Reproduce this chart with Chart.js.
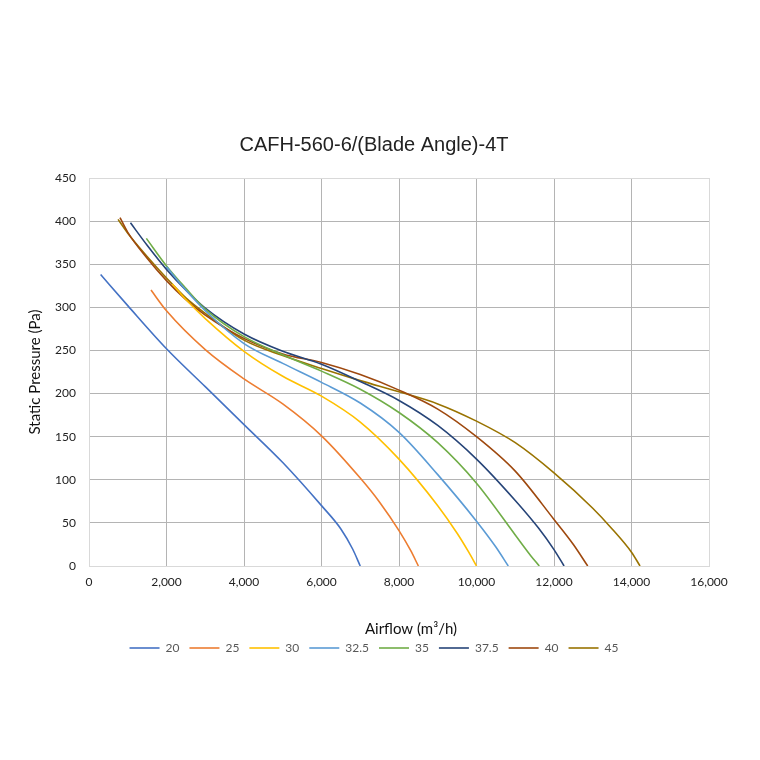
<!DOCTYPE html>
<html>
<head>
<meta charset="utf-8">
<script src="https://cdn.jsdelivr.net/npm/chart.js@4.4.1/dist/chart.umd.min.js"></script>
<style>
  html, body { margin: 0; padding: 0; background: #fff; }
  #wrap { width: 760px; height: 760px; }
</style>
</head>
<body>
<div id="wrap"><canvas id="curvas"></canvas></div>
<script>
// blade angles (legend labels)
const angulos = ['20', '25', '30', '32.5', '35', '37.5', '40', '45'];

// airflow (m3/h) and static pressure (Pa)
const flow20 = [300, 1000, 2000, 3000, 4000, 5000, 6000, 6500, 6800, 7000];
const pres20 = [338, 302, 252, 208, 164, 120, 70, 43, 20, 0];

const flow25 = [1600, 2000, 3000, 4000, 5000, 6000, 7000, 7500, 8000, 8300, 8500];
const pres25 = [320, 296, 251, 217, 188, 151, 102, 74, 41, 18, 0];

const flow30 = [2150, 2500, 3000, 4000, 5000, 6000, 7000, 8000, 9000, 9500, 9800, 10000];
const pres30 = [327, 309, 287, 249, 220, 197, 167, 124, 70, 38, 16, 0];

const flow325 = [2000, 2500, 3000, 4000, 5000, 6000, 7000, 8000, 9000, 10000, 10500, 10820];
const pres325 = [347, 320, 296, 258, 235, 213, 189, 155, 106, 52, 22, 0];

const flow35 = [1480, 2000, 2500, 3000, 4000, 5000, 6000, 7000, 8000, 9000, 10000, 11000, 11400, 11620];
const pres35 = [380, 348, 322, 298, 266, 245, 226, 205, 178, 143, 96, 36, 12, 0];

const flow375 = [1070, 1500, 2000, 2500, 3000, 4000, 5000, 6000, 7000, 8000, 9000, 10000, 11000, 11600, 12000, 12260];
const pres375 = [398, 372, 344, 320, 299, 269, 249, 234, 214, 192, 163, 124, 76, 44, 19, 0];

const flow40 = [800, 1000, 1500, 2000, 2500, 3000, 4000, 5000, 6000, 7000, 8000, 9000, 10000, 11000, 12000, 12500, 12870];
const pres40 = [404, 387, 357, 331, 309, 291, 264, 246, 236, 222, 204, 182, 150, 110, 54, 25, 0];

const flow45 = [750, 1000, 1500, 2000, 2500, 3000, 4000, 5000, 6000, 7000, 8000, 9000, 10000, 11000, 12000, 13000, 13500, 14000, 14220];
const pres45 = [402, 386, 359, 334, 311, 293, 262, 244, 229, 215, 202, 188, 168, 143, 108, 67, 43, 16, 0];

const cores = ['#4472C4', '#ED7D31', '#FFC000', '#5B9BD5', '#70AD47', '#264478', '#9E480E', '#997300'];

const fluxos = [flow20, flow25, flow30, flow325, flow35, flow375, flow40, flow45];
const pressoes = [pres20, pres25, pres30, pres325, pres35, pres375, pres40, pres45];

const fonteTexto = 'Lato, "Open Sans", sans-serif';

const datasets = angulos.map((ang, i) => ({
    label: ang,
    data: fluxos[i].map((x, j) => ({ x: x, y: pressoes[i][j] })),
    borderColor: cores[i],
    backgroundColor: cores[i],
    borderWidth: 1.6,
    showLine: true,
    pointRadius: 0,
    pointHoverRadius: 0,
    pointStyle: 'line',
    cubicInterpolationMode: 'monotone'
}));

// x axis title sits a little right of the plot centre in the original
const tituloX = {
    id: 'tituloX',
    afterDraw(chart) {
        const { ctx, chartArea } = chart;
        ctx.save();
        ctx.font = '15px ' + fonteTexto;
        ctx.fillStyle = '#111';
        ctx.textAlign = 'center';
        ctx.textBaseline = 'middle';
        ctx.fillText('Airflow (m³/h)', (chartArea.left + chartArea.right) / 2 + 12, chartArea.bottom + 63);
        ctx.restore();
    }
};

const ctx = document.getElementById('curvas').getContext('2d');

new Chart(ctx, {
    type: 'scatter',
    data: { datasets: datasets },
    plugins: [tituloX],
    options: {
        responsive: true,
        maintainAspectRatio: false,
        animation: false,
        layout: {
            padding: { top: 120, left: 20, right: 32, bottom: 96 }
        },
        plugins: {
            title: {
                display: true,
                text: 'CAFH-560-6/(Blade Angle)-4T',
                color: '#222',
                font: { family: '"Liberation Sans", Arial, sans-serif', size: 20, weight: 'normal' },
                padding: { top: 13, bottom: 21 }
            },
            legend: {
                position: 'bottom',
                labels: {
                    usePointStyle: true,
                    pointStyleWidth: 30,
                    color: '#595959',
                    padding: 10,
                    font: { family: fonteTexto, size: 12 }
                }
            },
            tooltip: { enabled: false }
        },
        scales: {
            x: {
                type: 'linear',
                min: 0,
                max: 16000,
                afterFit: (s) => { s.height = 66; },
                ticks: {
                    stepSize: 2000,
                    padding: 9,
                    color: '#222',
                    font: { family: fonteTexto, size: 12 },
                    callback: (v) => v.toLocaleString('en-US')
                },
                grid: {
                    drawTicks: false,
                    color: (c) => (c.tick && c.tick.value === 16000) ? '#d9d9d9' : '#b4b4b4'
                },
                border: { color: '#d9d9d9' }
            },
            y: {
                min: 0,
                max: 450,
                afterFit: (s) => { s.width = 69; },
                ticks: {
                    stepSize: 50,
                    padding: 13,
                    color: '#222',
                    font: { family: fonteTexto, size: 12 },
                },
                grid: {
                    drawTicks: false,
                    color: (c) => (c.tick && c.tick.value === 450) ? '#d9d9d9' : '#b4b4b4'
                },
                border: { color: '#d9d9d9' },
                title: {
                    display: true,
                    text: 'Static Pressure (Pa)',
                    color: '#111',
                    font: { family: fonteTexto, size: 15 },
                    padding: { top: 6, bottom: 0 }
                }
            },
            // empty right axis, only reserves room so chart area ends where the original does
            yDir: {
                position: 'right',
                display: true,
                afterFit: (s) => { s.width = 19; },
                ticks: { display: false },
                grid: { display: false },
                border: { display: false }
            }
        }
    }
});
</script>
</body>
</html>
